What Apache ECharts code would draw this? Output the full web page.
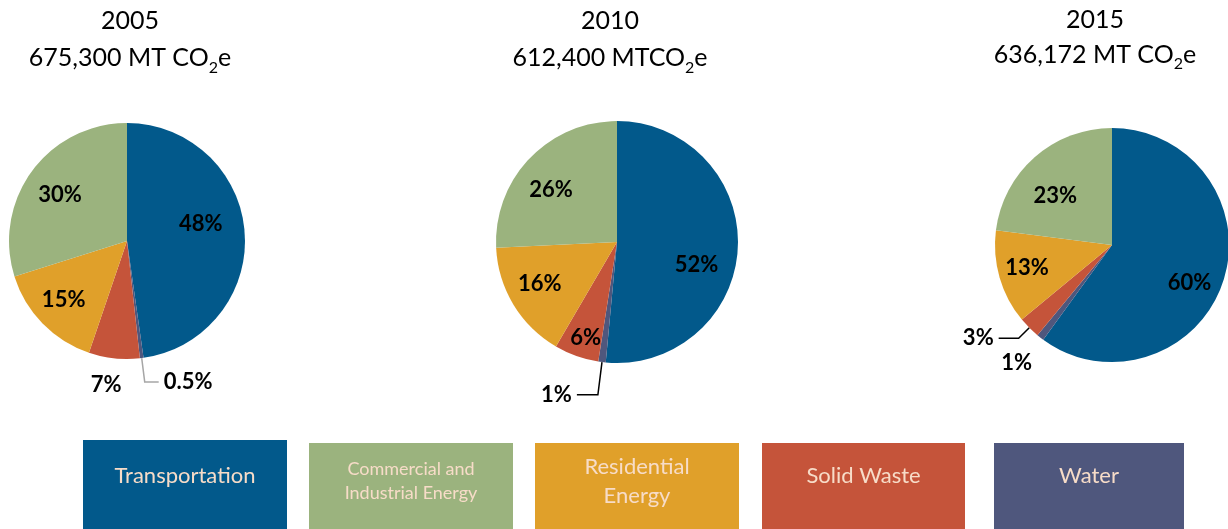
<!DOCTYPE html>
<html>
<head>
<meta charset="utf-8">
<script src="https://cdn.jsdelivr.net/npm/echarts@6/dist/echarts.min.js"></script>
<style>
  html, body { margin: 0; padding: 0; background: #ffffff; }
  #chart { width: 1228px; height: 529px; }
</style>
</head>
<body>
<div id="chart"></div>
<script>
// Emission sectors, in the clockwise order the slices are drawn (from 12 o'clock)
const categories = ['Transportation', 'Water', 'Solid Waste', 'Residential Energy', 'Commercial and Industrial Energy'];
const years = ['2005', '2010', '2015'];
const totals = ['675,300 MT CO', '612,400 MTCO', '636,172 MT CO'];

// Share of total emissions (%) per sector
const share2005 = [48, 0.5, 7, 15, 30];
const share2010 = [52, 1, 6, 16, 26];
const share2015 = [60, 1, 3, 13, 23];

// Legend boxes, left to right
const legendOrder = ['Transportation', 'Commercial and Industrial Energy', 'Residential Energy', 'Solid Waste', 'Water'];
const legendText = ['Transportation', 'Commercial and\nIndustrial Energy', 'Residential\nEnergy', 'Solid Waste', 'Water'];

const COLORS = {
  'Transportation': '#02598b',
  'Water': '#4f577d',
  'Solid Waste': '#c5543a',
  'Residential Energy': '#e0a02a',
  'Commercial and Industrial Energy': '#9bb37e'
};

const FONT = 'Lato, "Open Sans", sans-serif';

// Geometry of each pie
const pies = [
  { center: [127, 241], radius: 118, titleX: 130, titleGap: 37 },
  { center: [617, 242], radius: 121, titleX: 610, titleGap: 37 },
  { center: [1112, 245], radius: 117, titleX: 1095, titleGap: 35 }
];

// Labels placed outside the pie (index = slice index)
const outsideLabels = [
  { 1: { line: true, length: 24, length2: 14, color: '#a6a6a6' }, 2: { line: false, length: 15, length2: 0 } },
  { 1: { line: true, length: 33, length2: 21, color: '#000000' } },
  { 1: { line: false, length: 15, length2: 0 }, 2: { line: true, length: 15, length2: 20, color: '#000000' } }
];

// Fine offsets for the percentage labels, per pie, per slice
const labelNudge = [
  [[12, -13], null, [14, 12], [-19, 16], [-17, -9]],
  [[16, 20], null, [-10, 36], [-23, 9], [-20, -8]],
  [[19, 19], [6, 14], null, [-26, 6], [-16, -3]]
];

const shares = [share2005, share2010, share2015];

const series = shares.map(function (values, si) {
  const cfg = pies[si];
  return {
    type: 'pie',
    center: cfg.center,
    radius: [0, cfg.radius],
    startAngle: 90,
    clockwise: true,
    avoidLabelOverlap: false,
    silent: true,
    animation: false,
    label: {
      show: true,
      position: 'inside',
      formatter: function (p) { return p.value + '%'; },
      fontFamily: FONT,
      fontWeight: 'bold',
      fontSize: 22,
      color: '#000000'
    },
    labelLine: { show: false },
    labelLayout: function (p) {
      const n = labelNudge[p.seriesIndex][p.dataIndex];
      return n ? { dx: n[0], dy: n[1] } : {};
    },
    data: values.map(function (v, i) {
      const item = {
        name: categories[i],
        value: v,
        itemStyle: { color: COLORS[categories[i]] }
      };
      const o = outsideLabels[si][i];
      if (o) {
        item.label = { position: 'outside', distanceToLabelLine: 5 };
        item.labelLine = {
          show: o.line,
          length: o.length,
          length2: o.length2,
          smooth: false,
          lineStyle: { color: o.color || '#000', width: 1.5 }
        };
      }
      return item;
    })
  };
});

const titles = years.map(function (y, i) {
  const gap = pies[i].titleGap;
  return {
    text: '{a|' + y + '}\n{a|' + totals[i] + '}{s|2}{a|e}',
    left: pies[i].titleX,
    top: 2,
    textAlign: 'center',
    padding: 0,
    textStyle: {
      fontWeight: 'normal',
      rich: {
        a: { fontFamily: FONT, fontWeight: 'normal', fontSize: 25, lineHeight: gap, color: '#000000' },
        s: { fontFamily: FONT, fontWeight: 'normal', fontSize: 16, lineHeight: 26, verticalAlign: 'bottom', color: '#000000' }
      }
    }
  };
});

// Legend boxes with their labels inside
const boxes = [
  { x: 83, y: 440, w: 204, h: 89, fs: 22, lh: 26 },
  { x: 309, y: 443, w: 204, h: 86, fs: 18, lh: 24 },
  { x: 535, y: 443, w: 204, h: 86, fs: 22, lh: 29 },
  { x: 762, y: 443, w: 203, h: 86, fs: 22, lh: 26 },
  { x: 994, y: 443, w: 190, h: 86, fs: 22, lh: 26 }
];
const graphics = [];
legendOrder.forEach(function (name, i) {
  const b = boxes[i];
  graphics.push({
    type: 'rect',
    shape: { x: b.x, y: b.y, width: b.w, height: b.h },
    style: { fill: COLORS[name] },
    silent: true
  });
  const lines = legendText[i].split('\n').length;
  graphics.push({
    type: 'text',
    x: b.x + b.w / 2,
    y: lines > 1 ? 481 : 476,
    silent: true,
    style: {
      text: legendText[i],
      align: 'center',
      verticalAlign: 'middle',
      fontFamily: FONT,
      fontSize: b.fs,
      lineHeight: b.lh,
      fill: '#f7dcc8'
    }
  });
});

const chart = echarts.init(document.getElementById('chart'), null, { renderer: 'canvas' });
chart.setOption({
  backgroundColor: '#ffffff',
  animation: false,
  title: titles,
  series: series,
  graphic: graphics
});
</script>
</body>
</html>
